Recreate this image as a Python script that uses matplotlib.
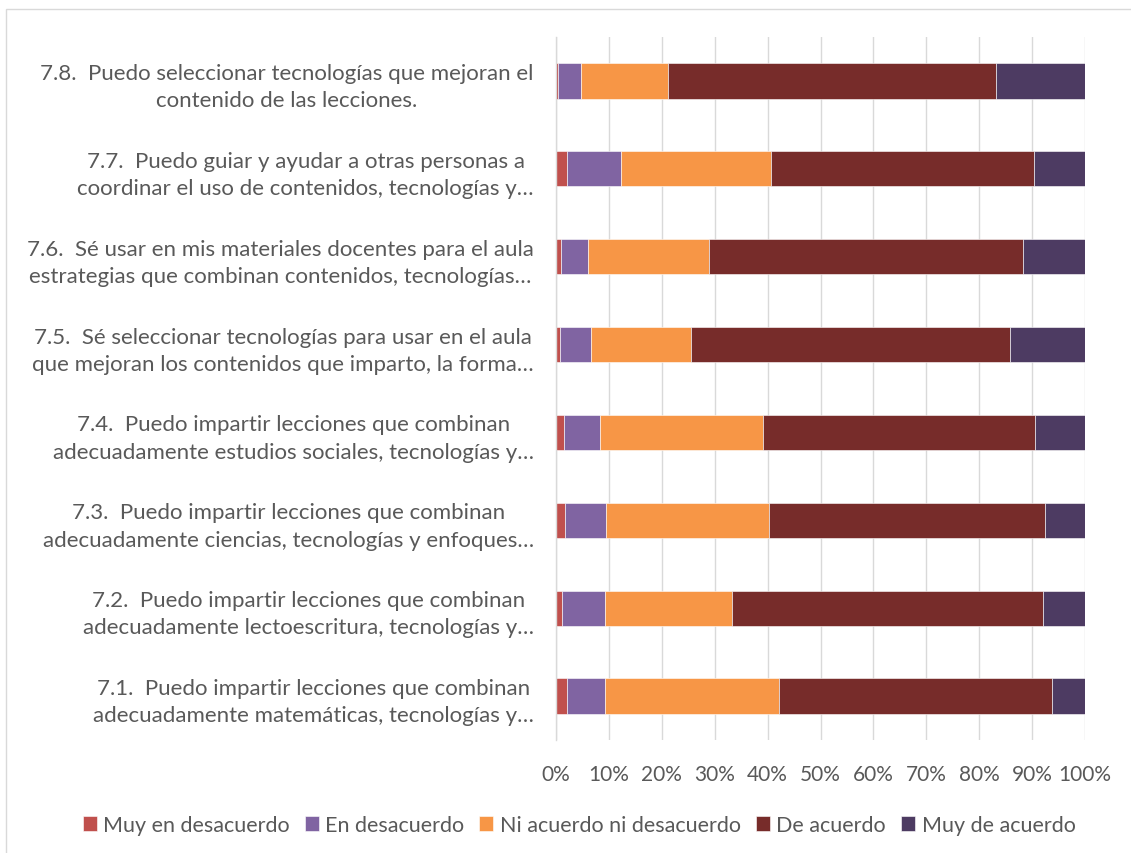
import matplotlib
matplotlib.use("Agg")
import matplotlib.pyplot as plt
from matplotlib.patches import Rectangle
import numpy as np

categories = [
    "7.1.  Puedo impartir lecciones que combinan\nadecuadamente matemáticas, tecnologías y…",
    "7.2.  Puedo impartir lecciones que combinan\nadecuadamente lectoescritura, tecnologías y…",
    "7.3.  Puedo impartir lecciones que combinan\nadecuadamente ciencias, tecnologías y enfoques…",
    "7.4.  Puedo impartir lecciones que combinan\nadecuadamente estudios sociales, tecnologías y…",
    "7.5.  Sé seleccionar tecnologías para usar en el aula\nque mejoran los contenidos que imparto, la forma…",
    "7.6.  Sé usar en mis materiales docentes para el aula\nestrategias que combinan contenidos, tecnologías…",
    "7.7.  Puedo guiar y ayudar a otras personas a\ncoordinar el uso de contenidos, tecnologías y…",
    "7.8.  Puedo seleccionar tecnologías que mejoran el\ncontenido de las lecciones.",
]

series_names = ["Muy en desacuerdo", "En desacuerdo", "Ni acuerdo ni desacuerdo",
                "De acuerdo", "Muy de acuerdo"]

muy_en_desacuerdo = [2.0, 1.2, 1.7, 1.5, 0.7, 0.9, 2.0, 0.3]
en_desacuerdo     = [7.2, 8.0, 7.8, 6.8, 6.0, 5.2, 10.2, 4.5]
ni_acuerdo        = [33.0, 24.1, 30.8, 30.8, 18.8, 22.8, 28.4, 16.4]
de_acuerdo        = [51.5, 58.7, 52.3, 51.5, 60.4, 59.4, 49.7, 61.9]
muy_de_acuerdo    = [6.3, 8.0, 7.5, 9.4, 14.1, 11.7, 9.7, 16.9]

x_ticks = [0, 10, 20, 30, 40, 50, 60, 70, 80, 90, 100]
x_tick_labels = ["0%", "10%", "20%", "30%", "40%", "50%", "60%", "70%", "80%", "90%", "100%"]

colors = ["#C0504D", "#8064A2", "#F79646", "#772C2A", "#4D3B62"]

plt.rcParams['font.family'] = ['Lato', 'DejaVu Sans']
text_color = "#595959"

W, H = 1131, 854
fig = plt.figure(figsize=(W / 100, H / 100), dpi=100)
fig.patch.set_facecolor("white")

# chart border
fig.patches.append(Rectangle((6 / W, -0.1), 1.2, 1.1 - 10 / H, transform=fig.transFigure,
                             fill=False, edgecolor="#D9D9D9", linewidth=1.0))

left, right, top, bottom = 556, 1085, 38, 741
ax = fig.add_axes([left / W, 1 - bottom / H, (right - left) / W, (bottom - top) / H])

series = [muy_en_desacuerdo, en_desacuerdo, ni_acuerdo, de_acuerdo, muy_de_acuerdo]
y = np.arange(len(categories))
totals = np.sum(np.array(series), axis=0)
lefts = np.zeros(len(categories))
for name, vals, c in zip(series_names, series, colors):
    v = np.array(vals) / totals * 100
    ax.barh(y, v, left=lefts, height=0.4, color=c, label=name,
            edgecolor="white", linewidth=0.4, zorder=3)
    lefts += v

ax.set_xlim(0, 100)
ax.set_ylim(-0.5, len(categories) - 0.5)
ax.set_xticks(x_ticks)
ax.set_xticklabels(x_tick_labels)
ax.set_yticks(y)
ax.set_yticklabels(categories, ha="right", multialignment="center", linespacing=1.45)
ax.tick_params(axis="both", length=0, colors=text_color)
ax.tick_params(axis="x", pad=17, labelsize=15)
ax.tick_params(axis="y", pad=16, labelsize=16)
ax.grid(axis="x", color="#D9D9D9", linewidth=1.0, zorder=0)
for s in ["top", "right", "bottom"]:
    ax.spines[s].set_visible(False)
ax.spines["left"].set_color("#D9D9D9")
ax.spines["left"].set_linewidth(1.0)
ax.spines["left"].set_zorder(4)

handles, labels = ax.get_legend_handles_labels()
leg = fig.legend(handles, labels, loc="center", bbox_to_anchor=(579 / W, 1 - 826 / H),
                 ncol=5, frameon=False, fontsize=15.5, handlelength=0.65, handleheight=0.65,
                 handletextpad=0.3, columnspacing=0.7, labelcolor=text_color)

fig.savefig("out.png", dpi=100, facecolor="white")
